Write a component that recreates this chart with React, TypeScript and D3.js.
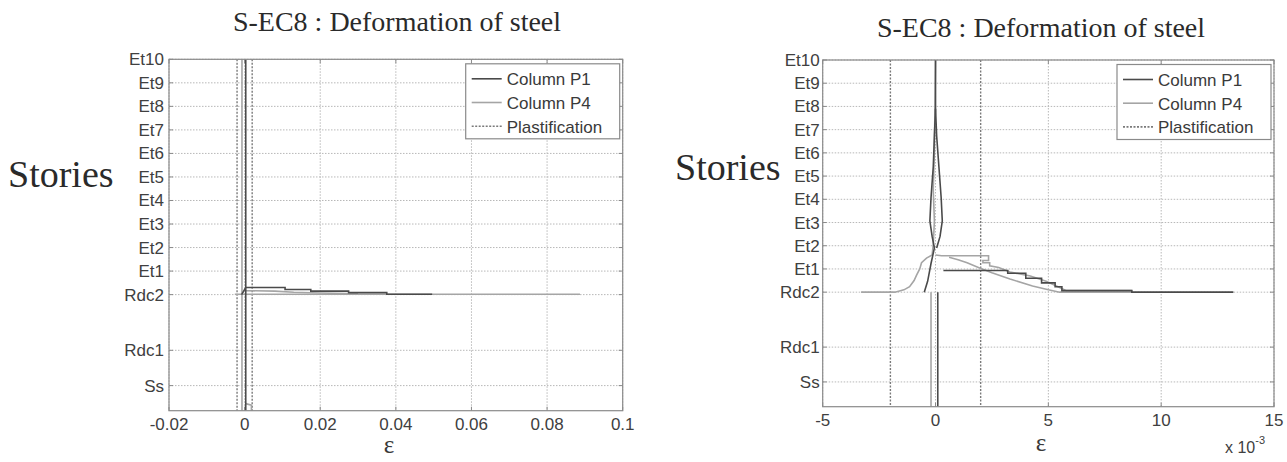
import React from "react";
import * as d3 from "d3";

type Pt = [number, number];

// Story levels (elevation units) and their labels
const storyLabels = ["Ss", "Rdc1", "Rdc2", "Et1", "Et2", "Et3", "Et4", "Et5", "Et6", "Et7", "Et8", "Et9", "Et10"];
const storyLevels = [3.2, 7.7, 14.8, 17.8, 20.8, 23.8, 26.8, 29.8, 32.8, 35.8, 38.8, 41.8, 44.8];
const yDomain: [number, number] = [0, 44.8];

// Left panel (strain, absolute)
const leftXTicks = [-0.02, 0, 0.02, 0.04, 0.06, 0.08, 0.1];
const leftXTickLabels = ["-0.02", "0", "0.02", "0.04", "0.06", "0.08", "0.1"];
const leftPlast = [-0.002, 0.002];
const leftP1: Pt[][] = [
  [[0.0003, 0], [0.0003, 44.8]],
  [[-0.0008, 14.8], [0.0003, 15.7], [0.0107, 15.7], [0.0107, 15.45], [0.0175, 15.45], [0.0175, 15.25], [0.0275, 15.25], [0.0275, 15.05], [0.0376, 15.05], [0.0376, 14.85], [0.0496, 14.85]],
];
const leftP4: Pt[][] = [
  [[-0.0007, 0], [-0.0007, 44.8]],
  [[0.0003, 0.9], [0.0018, 0.7], [0.0018, 0]],
  [[-0.0026, 14.85], [0.0887, 14.85]],
  [[0.0003, 15.3], [0.008, 15.25], [0.013, 15.1], [0.02, 15.0], [0.03, 14.9]],
];

// Right panel (strain x 10^-3)
const rightXTicks = [-5, 0, 5, 10, 15];
const rightXTickLabels = ["-5", "0", "5", "10", "15"];
const rightPlast = [-2, 2];
const rightP1: Pt[][] = [
  [[0.1, 0], [0.1, 14.8]],
  [[-0.5, 14.8], [-0.35, 16.2], [-0.2, 18.5], [-0.05, 20.5], [-0.15, 22], [-0.25, 24], [-0.2, 27], [-0.1, 31], [-0.05, 35], [0.0, 38.5], [0.0, 44.8]],
  [[0.05, 20.5], [0.2, 22], [0.3, 24], [0.25, 27], [0.15, 31], [0.05, 35], [0.0, 38.5]],
  [[0.35, 17.6], [3.2, 17.6], [3.2, 17.25], [4.0, 17.25], [4.0, 16.6], [4.7, 16.6], [4.7, 16.0], [5.3, 16.0], [5.3, 15.5], [5.6, 15.5], [5.6, 15.0], [8.7, 15.0], [8.7, 14.8], [13.2, 14.8]],
];
const rightP4: Pt[][] = [
  [[-0.2, 0], [-0.2, 14.8]],
  [[-3.3, 14.8], [-1.8, 14.8], [-1.4, 15.1], [-1.15, 15.5], [-0.95, 16.3], [-0.84, 17.0], [-0.7, 17.8], [-0.62, 18.6], [-0.4, 19.2], [-0.15, 19.6], [-0.1, 21], [-0.05, 24], [-0.1, 28], [-0.05, 33], [0.0, 44.8]],
  [[0.0, 19.6], [0.27, 19.5], [2.35, 19.5], [2.35, 18.9], [2.1, 18.9], [2.1, 18.6], [2.4, 18.6], [2.4, 18.2], [2.8, 18.0], [3.3, 17.4], [4.2, 16.9], [4.9, 16.2], [5.5, 15.4], [5.8, 15.0], [8.7, 15.0]],
  [[0.6, 19.3], [1.0, 19.0], [1.4, 18.6], [1.9, 18.0], [2.5, 17.3], [3.3, 16.5], [4.3, 15.6], [5.0, 15.1], [5.5, 14.8], [8.7, 14.8]],
];

const legendLabels = ["Column P1", "Column P4", "Plastification"];
const titleText = "S-EC8 : Deformation of steel";

const SANS = "'Liberation Sans', Arial, sans-serif";
const SERIF = "'Liberation Serif', 'Times New Roman', serif";

const C_P1 = "#4a4a4a";
const C_P4 = "#a5a5a5";
const C_PL = "#7a7a7a";
const C_GRID = "#b8b8b8";
const C_FRAME = "#8a8a8a";
const C_TXT = "#404040";

interface PanelProps {
  id: string;
  x0: number; x1: number; y0: number; y1: number;
  xDomain: [number, number];
  xTicks: number[]; xTickLabels: string[];
  plast: number[];
  p1: Pt[][]; p4: Pt[][];
  title: { x: number; y: number };
  stories: { x: number; y: number };
  eps: { x: number; y: number };
  yLabelGap: number;
  exponent?: boolean;
}

function Panel(p: PanelProps) {
  const x = d3.scaleLinear().domain(p.xDomain).range([p.x0, p.x1]);
  const y = d3.scaleLinear().domain(yDomain).range([p.y1, p.y0]);
  const line = d3.line<Pt>().x((d) => x(d[0])).y((d) => y(d[1]));
  const lgW = 154, lgH = 75;
  const lgX = p.x1 - 157, lgY = p.y0 + 4.5;
  const styles = [
    { stroke: C_P1, dash: undefined as string | undefined },
    { stroke: C_P4, dash: undefined as string | undefined },
    { stroke: C_PL, dash: "2,1.5" },
  ];
  return (
    <g>
      <defs>
        <clipPath id={`clip-${p.id}`}>
          <rect x={p.x0} y={p.y0} width={p.x1 - p.x0} height={p.y1 - p.y0} />
        </clipPath>
      </defs>
      <rect x={p.x0} y={p.y0} width={p.x1 - p.x0} height={p.y1 - p.y0} fill="#fff" />
      {/* grid */}
      {p.xTicks.map((t, i) => (
        <line key={`gx${i}`} x1={x(t)} x2={x(t)} y1={p.y0} y2={p.y1} stroke={C_GRID} strokeDasharray="1.5,1.5" />
      ))}
      {storyLevels.map((t, i) => (
        <line key={`gy${i}`} x1={p.x0} x2={p.x1} y1={y(t)} y2={y(t)} stroke={C_GRID} strokeDasharray="1.5,1.5" />
      ))}
      {/* ticks */}
      {p.xTicks.map((t, i) => (
        <g key={`tx${i}`}>
          <line x1={x(t)} x2={x(t)} y1={p.y1} y2={p.y1 - 4} stroke={C_FRAME} />
          <line x1={x(t)} x2={x(t)} y1={p.y0} y2={p.y0 + 4} stroke={C_FRAME} />
        </g>
      ))}
      {storyLevels.map((t, i) => (
        <g key={`ty${i}`}>
          <line x1={p.x0} x2={p.x0 + 4} y1={y(t)} y2={y(t)} stroke={C_FRAME} />
          <line x1={p.x1} x2={p.x1 - 4} y1={y(t)} y2={y(t)} stroke={C_FRAME} />
        </g>
      ))}
      <g clipPath={`url(#clip-${p.id})`}>
        {p.plast.map((t, i) => (
          <line key={`pl${i}`} x1={x(t)} x2={x(t)} y1={p.y0} y2={p.y1} stroke={C_PL} strokeWidth={1.4} strokeDasharray="2,1.5" />
        ))}
        {p.p4.map((s, i) => (
          <path key={`p4${i}`} d={line(s) || ""} fill="none" stroke={C_P4} strokeWidth={1.6} />
        ))}
        {p.p1.map((s, i) => (
          <path key={`p1${i}`} d={line(s) || ""} fill="none" stroke={C_P1} strokeWidth={1.6} />
        ))}
      </g>
      <rect x={p.x0} y={p.y0} width={p.x1 - p.x0} height={p.y1 - p.y0} fill="none" stroke={C_FRAME} strokeWidth={1.2} />
      {/* tick labels */}
      {storyLevels.map((t, i) => (
        <text key={`ly${i}`} x={p.x0 - p.yLabelGap} y={y(t) + 6} textAnchor="end" fontFamily={SANS} fontSize={17} fill={C_TXT}>
          {storyLabels[i]}
        </text>
      ))}
      {p.xTicks.map((t, i) => (
        <text key={`lx${i}`} x={x(t)} y={p.y1 + 19} textAnchor="middle" fontFamily={SANS} fontSize={17} fill={C_TXT}>
          {p.xTickLabels[i]}
        </text>
      ))}
      {/* legend */}
      <rect x={lgX} y={lgY} width={lgW} height={lgH} fill="#fff" stroke={C_FRAME} strokeWidth={1.2} />
      {legendLabels.map((lab, i) => (
        <g key={`lg${i}`}>
          <line x1={lgX + 6} x2={lgX + 36} y1={lgY + 15 + i * 23.7} y2={lgY + 15 + i * 23.7} stroke={styles[i].stroke} strokeWidth={1.6} strokeDasharray={styles[i].dash} />
          <text x={lgX + 41} y={lgY + 21.5 + i * 23.7} fontFamily={SANS} fontSize={17} fill="#3a3a3a">{lab}</text>
        </g>
      ))}
      {/* titles and labels */}
      <text x={p.title.x} y={p.title.y} textAnchor="middle" fontFamily={SERIF} fontSize={28} fill="#2a2a2a">{titleText}</text>
      <text x={p.stories.x} y={p.stories.y} fontFamily={SERIF} fontSize={38} fill="#2a2a2a">Stories</text>
      <text x={p.eps.x} y={p.eps.y} textAnchor="middle" fontFamily={SERIF} fontSize={25} fill="#3a3a3a">ε</text>
      {p.exponent && (
        <text x={1225} y={453} fontFamily={SANS} fontSize={16} fill={C_TXT}>
          x 10<tspan dy={-9} fontSize={11}>-3</tspan>
        </text>
      )}
    </g>
  );
}

export default function App() {
  return (
    <svg width={1287} height={462} style={{ position: "absolute", left: 0, top: 0, background: "#fff" }}>
      <rect x={0} y={0} width={1287} height={462} fill="#fff" />
      <Panel
        id="left"
        x0={169} x1={622.7} y0={59.3} y1={410.7}
        xDomain={[-0.02, 0.1]}
        xTicks={leftXTicks} xTickLabels={leftXTickLabels}
        plast={leftPlast} p1={leftP1} p4={leftP4}
        title={{ x: 397, y: 31 }}
        stories={{ x: 8, y: 187 }}
        eps={{ x: 389, y: 453 }}
        yLabelGap={5}
      />
      <Panel
        id="right"
        x0={822.7} x1={1274} y0={60} y1={406.7}
        xDomain={[-5, 15]}
        xTicks={rightXTicks} xTickLabels={rightXTickLabels}
        plast={rightPlast} p1={rightP1} p4={rightP4}
        title={{ x: 1041, y: 37 }}
        stories={{ x: 675, y: 180 }}
        eps={{ x: 1041, y: 451 }}
        yLabelGap={3}
        exponent
      />
    </svg>
  );
}
